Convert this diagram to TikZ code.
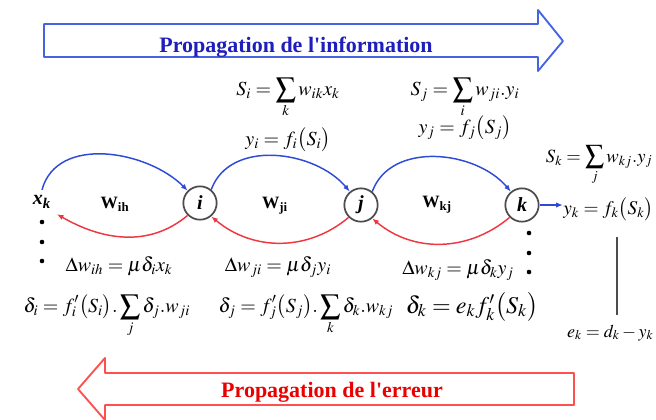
\documentclass[tikz,border=0pt]{standalone}
\usepackage{mathptmx}
\usepackage{fontspec}
\setmainfont{Liberation Serif}[Ligatures=TeXOff]
\usetikzlibrary{arrows.meta}
\definecolor{infoblue}{RGB}{70,100,225}
\definecolor{infotext}{RGB}{30,30,190}
\definecolor{errred}{RGB}{255,80,80}
\definecolor{errtext}{RGB}{235,0,0}
\definecolor{arcblue}{RGB}{45,75,215}
\definecolor{arcred}{RGB}{240,55,65}
\tikzset{
	neuron/.style={circle, draw=black!70, line width=1.3pt, minimum size=25pt, inner sep=0pt, font=\fontsize{15}{15}\selectfont\bfseries\itshape},
	fwd/.style={arcblue, line width=1.1pt, -{Latex[length=5pt,width=4pt]}},
	bwd/.style={arcred, line width=1.1pt, -{Latex[length=5pt,width=4pt]}},
	eq/.style={font=\fontsize{15}{16}\selectfont, inner sep=0pt, anchor=base},
	wlab/.style={font=\fontsize{13}{13}\selectfont\bfseries},
	bigtxt/.style={font=\fontsize{16.5}{18}\selectfont\bfseries, anchor=base}
}
\begin{document}
\begin{tikzpicture}[x=0.75pt, y=-0.75pt, thick]
	\useasboundingbox (0,0) rectangle (656,419);
	% fleches de propagation
	\draw[infoblue, line width=1.4pt, fill=white, line join=round] (44,24) -- (538,24) -- (538,10) -- (563,41) -- (538,71) -- (538,57) -- (44,57) -- cycle;
	\node[bigtxt, text=infotext] (info) at (296,52) {Propagation de l'information};
	\draw[errred, line width=1.4pt, fill=white, line join=round] (574,373) -- (105,373) -- (105,358) -- (78,389) -- (105,420) -- (105,405) -- (574,405) -- cycle;
	\node[bigtxt, text=errtext] (err) at (332,397) {Propagation de l'erreur};
	% reseau
	\node[font=\fontsize{15}{15}\selectfont\bfseries\itshape, inner sep=4pt] (xk) at (42,202) {x\textsubscript{k}};
	\node[neuron] (i) at (200,203) {i};
	\node[neuron] (j) at (361,205) {j};
	\node[neuron] (k) at (522,205) {k};
	\node[wlab] (wih) at (115,204) {W\textsubscript{ih}};
	\node[wlab] (wji) at (275,206) {W\textsubscript{ji}};
	\node[wlab] (wkj) at (437,205) {W\textsubscript{kj}};
	\draw[fwd] (xk.north) to[out=75,in=135] (i.135);
	\draw[fwd] (i.50) to[out=70,in=130] (j.130);
	\draw[fwd] (j.50) to[out=70,in=130] (k.130);
	\draw[bwd] (i.225) to[out=220,in=-30] (xk.south east);
	\draw[bwd] (j.225) to[out=220,in=-40] (i.-50);
	\draw[bwd] (k.225) to[out=220,in=-40] (j.-50);
	% sommes et sorties
	\node[eq] (si) at (288,95) {$\displaystyle S_i=\sum_k w_{ik}x_k$};
	\node[eq] (yi) at (288,145) {$y_i=f_i\bigl(S_i\bigr)$};
	\node[eq] (sj) at (465,95) {$\displaystyle S_j=\sum_i w_{ji}.y_i$};
	\node[eq] (yj) at (465,133) {$y_j=f_j\bigl(S_j\bigr)$};
	\node[eq, anchor=base east, font=\fontsize{14}{14}\selectfont] (sk) at (653,162) {$\displaystyle S_k=\sum_j w_{kj}.y_j$};
	\node[eq, anchor=base east, font=\fontsize{14.5}{15}\selectfont] (yk) at (654,214) {$y_k=f_k\bigl(S_k\bigr)$};
	\draw[fwd] (k.east) -- (k.east -| yk.west);
	\node[eq, anchor=base east, font=\fontsize{13.5}{14}\selectfont] (ek) at (654,337) {$e_k=d_k-y_k$};
	\coordinate (etop) at (617,237);
	\coordinate (ebot) at (617,315);
	\draw[black!70, line width=1.2pt] (etop) -- (ebot);
	% corrections
	\node[eq] (dwih) at (119,271) {$\Delta w_{ih}=\mu\delta_i x_k$};
	\node[eq] (dwji) at (278,271) {$\Delta w_{ji}=\mu\delta_j y_i$};
	\node[eq] (dwkj) at (458,274) {$\Delta w_{kj}=\mu\delta_k y_j$};
	\node[eq] (di) at (107,312) {$\displaystyle \delta_i=f'_i\bigl(S_i\bigr).\sum_j\delta_j.w_{ji}$};
	\node[eq] (dj) at (306,312) {$\displaystyle \delta_j=f'_j\bigl(S_j\bigr).\sum_k\delta_k.w_{kj}$};
	\node[eq, font=\fontsize{18}{18}\selectfont] (dk) at (472,313) {$\delta_k=e_k f'_k\bigl(S_k\bigr)$};
	\foreach \y in {222,242,261} \fill (42,\y) circle (2.3);
	\foreach \y in {233,253,272} \fill (529,\y) circle (2.3);
\end{tikzpicture}
\end{document}
